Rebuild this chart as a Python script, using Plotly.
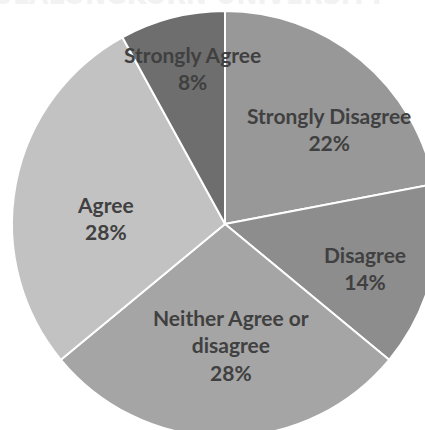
import numpy as np
import plotly.graph_objects as go

labels = ["Strongly Disagree", "Disagree", "Neither Agree or disagree", "Agree", "Strongly Agree"]
display = ["Strongly Disagree", "Disagree", "Neither Agree or<br>disagree", "Agree", "Strongly Agree"]
values = [22, 14, 28, 28, 8]
colors = ["#989898", "#8d8d8d", "#a5a5a5", "#c2c2c2", "#6e6e6e"]

# label placement style (radius fraction, angle nudge in degrees)
label_r = [0.66, 0.69, 0.57, 0.56, 0.75]
label_da = [8, 3, -3, -8, 2.5]

W, H = 450, 448
CX, CY, R = 225, 224, 213

fig = go.Figure(go.Pie(
    labels=labels, values=values,
    sort=False, direction="clockwise", rotation=0,
    marker=dict(colors=colors, line=dict(color="white", width=2)),
    textinfo="none",
    domain=dict(x=[(CX - R) / W, (CX + R) / W], y=[(H - CY - R) / H, (H - CY + R) / H]),
    showlegend=False, hoverinfo="label+percent",
))

vals = np.array(values, dtype=float)
pct = vals / vals.sum()
cum = np.concatenate([[0], np.cumsum(pct)])
for i, t in enumerate(display):
    ang = np.deg2rad((cum[i] + cum[i + 1]) / 2 * 360 + label_da[i])
    px = CX + label_r[i] * R * np.sin(ang)
    py = CY - label_r[i] * R * np.cos(ang)
    fig.add_annotation(
        text=f"{t}<br>{pct[i]:.0%}", xref="paper", yref="paper",
        x=px / W, y=1 - py / H, xanchor="center", yanchor="middle", showarrow=False,
        font=dict(family="Lato", size=21, color="#404040", weight="bold"),
    )

fig.add_annotation(
    text="CHULALONGKORN UNIVERSITY", xref="paper", yref="paper",
    x=388 / W, y=(H - 13) / H, xanchor="right", yanchor="bottom", showarrow=False,
    font=dict(family="Liberation Sans Narrow, DejaVu Sans Condensed", size=28, color="#f2f2f2", weight="bold"),
)
fig.update_layout(
    width=W, height=H, margin=dict(l=0, r=0, t=0, b=0),
    paper_bgcolor="white", plot_bgcolor="white",
)
fig.write_html("out.html", post_script="document.body.style.overflow='hidden';document.documentElement.style.overflow='hidden';")
